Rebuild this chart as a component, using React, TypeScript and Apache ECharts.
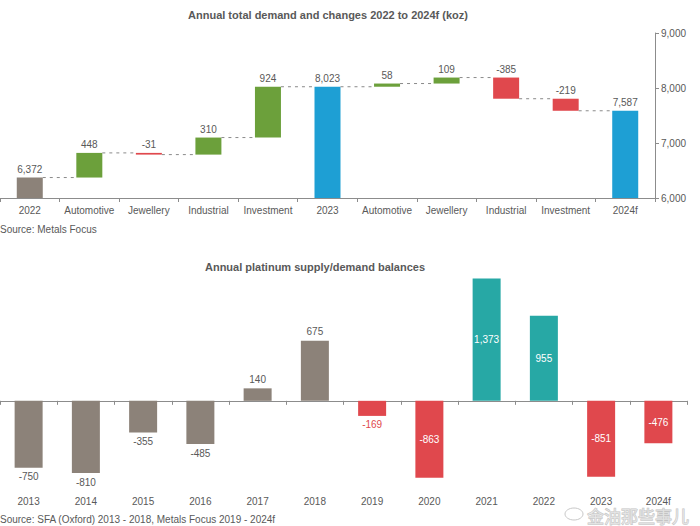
import React, { useEffect, useRef } from "react";
import * as echarts from "echarts";

const demandCategories = [
  "2022", "Automotive", "Jewellery", "Industrial", "Investment",
  "2023", "Automotive", "Jewellery", "Industrial", "Investment", "2024f",
];
const demandValues = [6372, 448, -31, 310, 924, 8023, 58, 109, -385, -219, 7587];
const demandIsTotal = [true, false, false, false, false, true, false, false, false, false, true];
const demandAxisMin = 6000;
const demandAxisMax = 9000;
const demandAxisStep = 1000;

const balanceYears = ["2013", "2014", "2015", "2016", "2017", "2018", "2019", "2020", "2021", "2022", "2023", "2024f"];
const balanceValues = [-750, -810, -355, -485, 140, 675, -169, -863, 1373, 955, -851, -476];
const sfaYearsCount = 6; // 2013-2018 from SFA (Oxford)

const GREY = "#8c8279";
const GREEN = "#6ca03b";
const RED = "#e0484d";
const BLUE = "#1e9fd4";
const TEAL = "#27a8a5";
const TEXT = "#595959";
const AXIS = "#8c8c8c";
const FONT = "'Liberation Sans', Arial, sans-serif";

const fmt = (v: number) => v.toLocaleString("en-US");

export default function App() {
  const ref = useRef<HTMLDivElement>(null);

  useEffect(() => {
    document.body.style.margin = "0";
    if (!ref.current) return;
    const chart = echarts.init(ref.current, undefined, { renderer: "svg" });

    // waterfall computation
    const bases: number[] = [];
    const visible: number[] = [];
    const ends: number[] = [];
    let level = 0;
    demandValues.forEach((v, i) => {
      if (demandIsTotal[i]) {
        bases.push(0);
        visible.push(v);
        level = v;
      } else {
        const start = level;
        const end = level + v;
        bases.push(Math.min(start, end));
        visible.push(Math.abs(v));
        level = end;
      }
      ends.push(level);
    });

    const halfBar = 13;

    const visibleData = visible.map((v, i) => ({
      value: v,
      itemStyle: {
        color: demandIsTotal[i] ? (i === 0 ? GREY : BLUE) : demandValues[i] >= 0 ? GREEN : RED,
      },
    }));

    const connectorData = ends.slice(0, -1).map((lv, i) => [i, lv]);

    const balanceData = balanceValues.map((v, i) => {
      const sfa = i < sfaYearsCount;
      const color = sfa ? GREY : v >= 0 ? TEAL : RED;
      const outside = sfa || Math.abs(v) < 300;
      return {
        value: v,
        itemStyle: { color },
        label: outside
          ? { position: v >= 0 ? "top" : "bottom", color: sfa ? TEXT : RED, distance: 4 }
          : { position: "inside", color: "#ffffff" },
      };
    });

    chart.setOption({
      animation: false,
      textStyle: { fontFamily: FONT },
      grid: [
        { left: 0, top: 33, width: 655, height: 165 },
        { left: 0, top: 276, width: 687, height: 214 },
      ],
      xAxis: [
        {
          gridIndex: 0,
          type: "category",
          data: demandCategories,
          boundaryGap: true,
          axisLine: { lineStyle: { color: AXIS } },
          axisTick: { show: true, length: 4, lineStyle: { color: AXIS } },
          axisLabel: { color: TEXT, fontSize: 10, margin: 7, interval: 0, fontFamily: FONT },
        },
        {
          gridIndex: 1,
          type: "category",
          data: balanceYears,
          boundaryGap: true,
          position: "bottom",
          axisLine: { onZero: true, lineStyle: { color: AXIS } },
          axisTick: { show: true, length: 4, lineStyle: { color: AXIS } },
          axisLabel: { show: false },
        },
        {
          gridIndex: 1,
          type: "category",
          data: balanceYears,
          boundaryGap: true,
          position: "bottom",
          axisLine: { show: false, onZero: false },
          axisTick: { show: false },
          axisLabel: { color: TEXT, fontSize: 10, margin: 6, interval: 0, fontFamily: FONT },
        },
      ],
      yAxis: [
        {
          gridIndex: 0,
          type: "value",
          position: "right",
          min: demandAxisMin,
          max: demandAxisMax,
          interval: demandAxisStep,
          axisLine: { show: true, lineStyle: { color: AXIS } },
          axisTick: { show: true, length: 4, lineStyle: { color: AXIS } },
          splitLine: { show: false },
          axisLabel: { color: TEXT, fontSize: 10, margin: 6, formatter: (v: number) => fmt(v), fontFamily: FONT },
        },
        {
          gridIndex: 1,
          type: "value",
          min: -1000,
          max: 1400,
          show: false,
          splitLine: { show: false },
        },
      ],
      series: [
        {
          type: "bar",
          xAxisIndex: 0,
          yAxisIndex: 0,
          stack: "wf",
          data: bases,
          barWidth: 26,
          itemStyle: { color: "transparent" },
          silent: true,
        },
        {
          type: "bar",
          xAxisIndex: 0,
          yAxisIndex: 0,
          stack: "wf",
          data: visibleData,
          barWidth: 26,
          label: {
            show: true,
            position: "top",
            distance: 3,
            color: TEXT,
            fontSize: 10,
            fontFamily: FONT,
            formatter: (p: any) => fmt(demandValues[p.dataIndex]),
          },
        },
        {
          type: "custom",
          xAxisIndex: 0,
          yAxisIndex: 0,
          data: connectorData,
          encode: { x: 0, y: 1 },
          silent: true,
          z: 5,
          renderItem: (_params: any, api: any) => {
            const i = api.value(0);
            const lv = api.value(1);
            const a = api.coord([i, lv]);
            const b = api.coord([i + 1, lv]);
            return {
              type: "line",
              shape: { x1: a[0] + halfBar, y1: a[1], x2: b[0] - halfBar, y2: b[1] },
              style: { stroke: "#8a8a8a", lineWidth: 1, lineDash: [3, 4] },
            };
          },
        },
        {
          type: "bar",
          xAxisIndex: 1,
          yAxisIndex: 1,
          data: balanceData,
          barWidth: 28,
          label: {
            show: true,
            fontSize: 10,
            fontFamily: FONT,
            formatter: (p: any) => fmt(balanceValues[p.dataIndex]),
          },
        },
      ],
      graphic: [
        {
          type: "text",
          x: 328,
          y: 15,
          style: {
            text: "Annual total demand and changes 2022 to 2024f (koz)",
            fill: TEXT,
            font: `bold 11px ${FONT}`,
            textAlign: "center",
            textVerticalAlign: "middle",
          },
        },
        {
          type: "text",
          x: 0,
          y: 229,
          style: {
            text: "Source: Metals Focus",
            fill: TEXT,
            font: `10px ${FONT}`,
            textAlign: "left",
            textVerticalAlign: "middle",
          },
        },
        {
          type: "text",
          x: 315,
          y: 267,
          style: {
            text: "Annual platinum supply/demand balances",
            fill: TEXT,
            font: `bold 11px ${FONT}`,
            textAlign: "center",
            textVerticalAlign: "middle",
          },
        },
        {
          type: "text",
          x: 0,
          y: 519,
          style: {
            text: "Source: SFA (Oxford) 2013 - 2018, Metals Focus 2019 - 2024f",
            fill: TEXT,
            font: `10px ${FONT}`,
            textAlign: "left",
            textVerticalAlign: "middle",
          },
        },
        {
          type: "ellipse",
          shape: { cx: 574, cy: 514, rx: 9, ry: 6 },
          style: { fill: "rgba(255,255,255,0.4)", stroke: "#c8c8c8", lineWidth: 1 },
        },
        {
          type: "text",
          x: 587,
          y: 515,
          style: {
            text: "金油那些事儿",
            fill: "rgba(255,255,255,0.45)",
            stroke: "#c4c4c4",
            lineWidth: 1,
            font: `17px 'Noto Sans CJK SC', sans-serif`,
            textAlign: "left",
            textVerticalAlign: "middle",
          },
        },
      ],
    });

    return () => chart.dispose();
  }, []);

  return <div ref={ref} style={{ width: 700, height: 526 }} />;
}
